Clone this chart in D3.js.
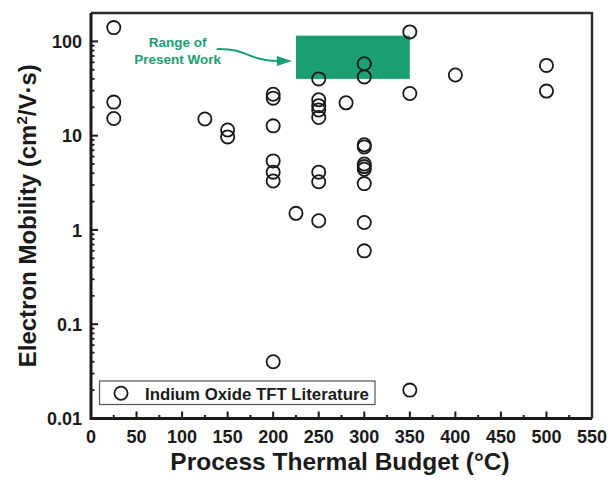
<!DOCTYPE html>
<html>
<head>
<meta charset="utf-8">
<script src="https://cdn.jsdelivr.net/npm/d3@7"></script>
<style>
  html, body { margin: 0; padding: 0; background: #fff; }
  svg { display: block; font-family: "Liberation Sans", Arial, Helvetica, sans-serif; }
</style>
</head>
<body>
<svg id="chart" width="612" height="481"></svg>
<script>
// Process temperature (°C) of each reported indium oxide TFT
const budgetC = [
  25, 25, 25,
  125,
  150, 150,
  200, 200, 200, 200, 200, 200, 200,
  225,
  250, 250, 250, 250, 250, 250, 250, 250,
  280,
  300, 300, 300, 300, 300, 300, 300, 300, 300, 300,
  350, 350, 350,
  400,
  500, 500
];
// Reported electron mobility (cm²/V·s), same order as budgetC
const mobility = [
  140, 22.7, 15.2,
  15,
  11.5, 9.7,
  27.5, 25, 12.7, 5.4, 4.1, 3.3, 0.04,
  1.5,
  40, 24, 20.8, 18.7, 15.6, 4.1, 3.25, 1.25,
  22.3,
  58, 42, 8.0, 7.6, 5.0, 4.7, 4.4, 3.1, 1.2, 0.6,
  126, 28, 0.02,
  44,
  55.6, 29.7
];
// Range covered by the present work: temperature span and mobility span
const presentTemp = [225, 350];
const presentMob = [40, 115];

const xTicks = [0, 50, 100, 150, 200, 250, 300, 350, 400, 450, 500, 550];
const yTicks = [0.01, 0.1, 1, 10, 100];
const yTickLabels = ["0.01", "0.1", "1", "10", "100"];

const svg = d3.select("#chart");
const plotL = 91, plotR = 592, plotT = 13, plotB = 418.5;

const x = d3.scaleLinear().domain([0, 550]).range([plotL, plotR]);
const y = d3.scaleLog().domain([0.01, 200]).range([plotB, plotT]);

const green = "#1c9e74";
const ink = "#1a1a1a";

// Shaded rectangle for the present work
svg.append("rect")
  .attr("x", x(presentTemp[0]))
  .attr("y", y(presentMob[1]))
  .attr("width", x(presentTemp[1]) - x(presentTemp[0]))
  .attr("height", y(presentMob[0]) - y(presentMob[1]))
  .attr("fill", green);

// Minor and major ticks on the x axis (pointing inward)
const xMinor = d3.range(25, 550, 50);
svg.append("g").selectAll("line").data(xMinor).join("line")
  .attr("x1", d => x(d)).attr("x2", d => x(d))
  .attr("y1", plotB).attr("y2", plotB - 3.5)
  .attr("stroke", ink).attr("stroke-width", 2);
svg.append("g").selectAll("line").data(xTicks.slice(1, -1)).join("line")
  .attr("x1", d => x(d)).attr("x2", d => x(d))
  .attr("y1", plotB).attr("y2", plotB - 7)
  .attr("stroke", ink).attr("stroke-width", 2);

// Log ticks on the y axis
const yMinor = [];
for (let p = -2; p <= 2; p++) {
  for (let m = 2; m <= 9; m++) {
    const v = m * Math.pow(10, p);
    if (v <= 200) yMinor.push(v);
  }
}
svg.append("g").selectAll("line").data(yMinor).join("line")
  .attr("x1", plotL).attr("x2", plotL + 3.5)
  .attr("y1", d => y(d)).attr("y2", d => y(d))
  .attr("stroke", ink).attr("stroke-width", 1.8);
svg.append("g").selectAll("line").data(yTicks.slice(1)).join("line")
  .attr("x1", plotL).attr("x2", plotL + 7)
  .attr("y1", d => y(d)).attr("y2", d => y(d))
  .attr("stroke", ink).attr("stroke-width", 2);

// Frame
svg.append("path")
  .attr("d", `M${plotL},${plotT}H${plotR}V${plotB}`)
  .attr("fill", "none").attr("stroke", "#2a2a2a").attr("stroke-width", 2.4);
svg.append("path")
  .attr("d", `M${plotL},${plotT}V${plotB}H${plotR}`)
  .attr("fill", "none").attr("stroke", ink).attr("stroke-width", 3);

// Tick labels
svg.append("g").selectAll("text").data(xTicks).join("text")
  .attr("x", d => x(d)).attr("y", 443)
  .attr("text-anchor", "middle")
  .attr("font-size", 18).attr("font-weight", "bold").attr("fill", ink)
  .text(d => d);
svg.append("g").selectAll("text").data(yTicks).join("text")
  .attr("x", 82).attr("y", d => y(d) + 6.7)
  .attr("text-anchor", "end")
  .attr("font-size", 18).attr("font-weight", "bold").attr("fill", ink)
  .text((d, i) => yTickLabels[i]);

// Axis titles
svg.append("text")
  .attr("x", 340).attr("y", 470)
  .attr("text-anchor", "middle")
  .attr("font-size", 24.5).attr("font-weight", "bold").attr("fill", ink)
  .text("Process Thermal Budget (°C)");
const yTitle = svg.append("text")
  .attr("transform", `translate(36,${(plotT + plotB) / 2}) rotate(-90)`)
  .attr("text-anchor", "middle")
  .attr("font-size", 24).attr("font-weight", "bold").attr("fill", ink);
yTitle.append("tspan").text("Electron Mobility (cm");
yTitle.append("tspan").attr("font-size", 15).attr("dy", -9).text("2");
yTitle.append("tspan").attr("dy", 9).text("/V·s)");

// Literature data points
const points = budgetC.map((t, i) => ({ t, m: mobility[i] }));
svg.append("g").selectAll("circle").data(points).join("circle")
  .attr("cx", d => x(d.t)).attr("cy", d => y(d.m))
  .attr("r", 6.6)
  .attr("fill", "none").attr("stroke", ink).attr("stroke-width", 1.8);

// Annotation: label and curved arrow toward the shaded range
const label = svg.append("text")
  .attr("text-anchor", "middle")
  .attr("font-size", 13.5).attr("font-weight", "bold").attr("fill", green);
label.append("tspan").attr("x", x(95)).attr("y", 47).text("Range of");
label.append("tspan").attr("x", x(95)).attr("y", 64).text("Present Work");

const ax0 = x(138), ay0 = 49, ax1 = x(220.5), ay1 = 61;
svg.append("path")
  .attr("d", `M${ax0},${ay0} C${ax0 + 30},${ay0 - 1} ${ax0 + 32},${ay1} ${ax1 - 14},${ay1}`)
  .attr("fill", "none").attr("stroke", green).attr("stroke-width", 2);
svg.append("path")
  .attr("d", `M${ax1},${ay1} L${ax1 - 15},${ay1 - 5} L${ax1 - 15},${ay1 + 5} Z`)
  .attr("fill", green);

// Legend
const lg = svg.append("g");
lg.append("rect")
  .attr("x", 99.5).attr("y", 381).attr("width", 275.5).attr("height", 23.5)
  .attr("fill", "#fff").attr("stroke", "#555").attr("stroke-width", 1.2);
lg.append("circle")
  .attr("cx", 121).attr("cy", 393.3).attr("r", 6.6)
  .attr("fill", "none").attr("stroke", ink).attr("stroke-width", 1.8);
lg.append("text")
  .attr("x", 145).attr("y", 399.5)
  .attr("font-size", 16.8).attr("font-weight", "bold").attr("fill", ink)
  .text("Indium Oxide TFT Literature");
</script>
</body>
</html>
